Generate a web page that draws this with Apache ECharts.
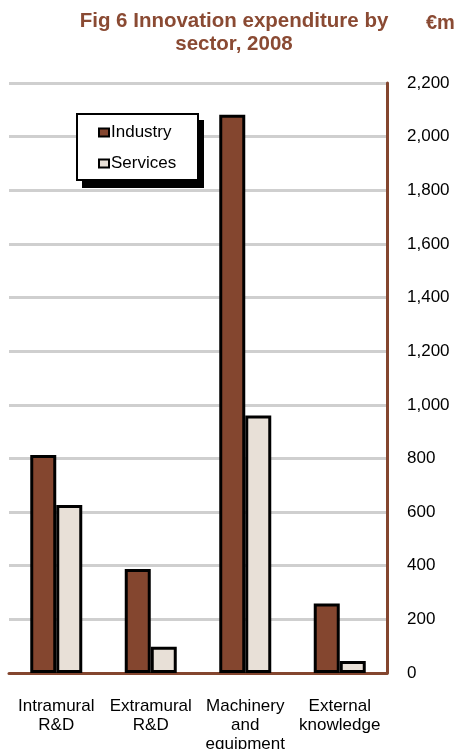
<!DOCTYPE html>
<html>
<head>
<meta charset="utf-8">
<script src="https://cdn.jsdelivr.net/npm/echarts@6/dist/echarts.min.js"></script>
<style>
  html, body { margin: 0; padding: 0; background: #fff; }
  #chart { width: 457px; height: 749px; }
</style>
</head>
<body>
<div id="chart"></div>
<script>
// Innovation expenditure by sector, 2008 (€m)
const categories = ['Intramural\nR&D', 'Extramural\nR&D', 'Machinery\nand\nequipment', 'External\nknowledge'];
const industry = [813, 388, 2082, 259];
const services = [626, 98, 960, 45];

const BROWN = '#84462F';
const BEIGE = '#E8E0D7';
const FONT = '"Liberation Sans", Arial, sans-serif';

const chart = echarts.init(document.getElementById('chart'));
chart.setOption({
  backgroundColor: '#fff',
  animation: false,
  title: [{
    text: 'Fig 6 Innovation expenditure by\nsector, 2008',
    left: 229,
    top: 5,
    textAlign: 'center',
    textStyle: { fontFamily: FONT, fontWeight: 'bold', fontSize: 20.5, color: '#8A4A33', lineHeight: 23 }
  }, {
    text: '€m',
    left: 421,
    top: 8,
    textStyle: { fontFamily: FONT, fontWeight: 'bold', fontSize: 20, color: '#8A4A33' }
  }],
  // legend frame with a solid drop shadow
  graphic: [{
    type: 'rect',
    z: 3,
    shape: { x: 82, y: 120, width: 122, height: 68 },
    style: { fill: '#000' }
  }, {
    type: 'rect',
    z: 3,
    shape: { x: 77, y: 114, width: 121, height: 66 },
    style: { fill: '#fff', stroke: '#000', lineWidth: 2 }
  }],
  legend: {
    orient: 'vertical',
    left: 77,
    top: 114,
    z: 5,
    padding: [10, 25, 9, 21],
    itemGap: 14,
    itemWidth: 10,
    itemHeight: 8,
    textStyle: { fontFamily: FONT, fontSize: 17, color: '#000', padding: [0, 0, 0, -3] },
    data: [
      { name: 'Industry', icon: 'rect', itemStyle: { color: BROWN, borderColor: '#000', borderWidth: 2 } },
      { name: 'Services', icon: 'rect', itemStyle: { color: BEIGE, borderColor: '#000', borderWidth: 2 } }
    ]
  },
  grid: { left: 9, right: 70, top: 83, bottom: 76, containLabel: false, outerBoundsMode: 'none' },
  xAxis: {
    type: 'category',
    data: categories,
    axisLine: { show: true, lineStyle: { color: BROWN, width: 3 } },
    axisTick: { show: false },
    axisLabel: { fontFamily: FONT, fontSize: 17, color: '#000', lineHeight: 19, margin: 24, interval: 0 }
  },
  yAxis: {
    type: 'value',
    position: 'right',
    min: 0,
    max: 2200,
    interval: 200,
    axisLine: { show: true, lineStyle: { color: BROWN, width: 3 } },
    axisTick: { show: false },
    splitLine: { show: true, lineStyle: { color: '#CFCFCF', width: 3 } },
    axisLabel: {
      fontFamily: FONT, fontSize: 17, color: '#000', margin: 20, align: 'left',
      formatter: v => v.toLocaleString('en-US')
    }
  },
  series: [{
    name: 'Industry',
    type: 'bar',
    data: industry,
    barWidth: 26,
    barGap: '0%',
    itemStyle: { color: BROWN, borderColor: '#000', borderWidth: 3 }
  }, {
    name: 'Services',
    type: 'bar',
    data: services,
    barWidth: 26,
    itemStyle: { color: BEIGE, borderColor: '#000', borderWidth: 3 }
  }]
});
</script>
</body>
</html>
